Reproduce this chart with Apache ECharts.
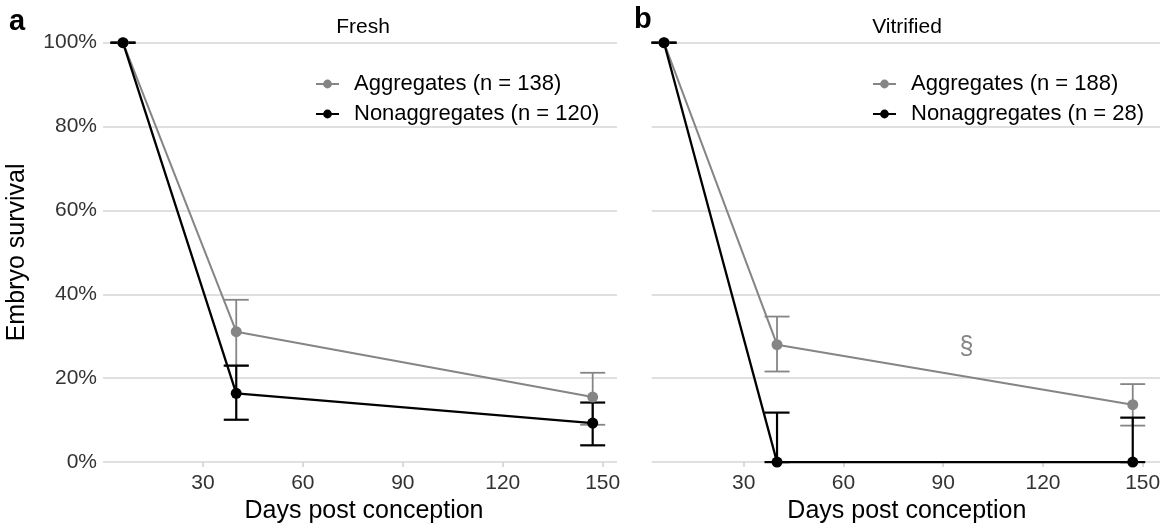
<!DOCTYPE html>
<html><head><meta charset="utf-8">
<script src="https://cdn.jsdelivr.net/npm/echarts@6/dist/echarts.min.js"></script>
<style>html,body{margin:0;padding:0;background:#fff}#c{width:1168px;height:529px}</style>
</head><body><div id="c"></div>
<script>
// ---- data ----
const days = [6, 40, 147];
const xTickValues = [30, 60, 90, 120, 150];
const panelTitles = ['Fresh', 'Vitrified'];
const panelLetters = ['a', 'b'];

const freshAggName = 'Aggregates (n = 138)';
const freshAggMean = [100, 31.1, 15.5];
const freshAggLow  = [100, 23.0, 8.9];
const freshAggHigh = [100, 38.7, 21.3];

const freshNonName = 'Nonaggregates (n = 120)';
const freshNonMean = [100, 16.4, 9.3];
const freshNonLow  = [100, 10.1, 4.0];
const freshNonHigh = [100, 23.0, 14.2];

const vitAggName = 'Aggregates (n = 188)';
const vitAggMean = [100, 28.0, 13.7];
const vitAggLow  = [100, 21.6, 8.7];
const vitAggHigh = [100, 34.7, 18.6];

const vitNonName = 'Nonaggregates (n = 28)';
const vitNonMean = [100, 0, 0];
const vitNonLow  = [100, 0, 0];
const vitNonHigh = [100, 11.8, 10.6];

const sigMarkDay = 97;
const sigMarkValue = 27.5;
const sigMarkText = '§';

// ---- styles ----
const GRAY = '#858585';
const BLACK = '#000000';
const FONT = 'Liberation Sans, Arial, Helvetica, sans-serif';

function pts(means) { return days.map((d, i) => [d, means[i]]); }
function errs(lo, hi) { return days.map((d, i) => [d, lo[i], hi[i]]); }

function errRender(color, width) {
  const half = 12.5;
  return function (params, api) {
    const x = api.value(0), lo = api.value(1), hi = api.value(2);
    const pl = api.coord([x, lo]);
    const ph = api.coord([x, hi]);
    const st = { stroke: color, lineWidth: width, fill: null };
    return {
      type: 'group',
      children: [
        { type: 'line', shape: { x1: pl[0], y1: pl[1], x2: ph[0], y2: ph[1] }, style: st },
        { type: 'line', shape: { x1: pl[0] - half, y1: pl[1], x2: pl[0] + half, y2: pl[1] }, style: st },
        { type: 'line', shape: { x1: ph[0] - half, y1: ph[1], x2: ph[0] + half, y2: ph[1] }, style: st }
      ]
    };
  };
}

function errSeries(idx, lo, hi, color, width) {
  return {
    type: 'custom', xAxisIndex: idx, yAxisIndex: idx,
    renderItem: errRender(color, width),
    encode: { x: 0, y: [1, 2] },
    data: errs(lo, hi), silent: true, clip: false
  };
}
function lineSeries(idx, name, means, color, width) {
  return {
    type: 'line', name: name, xAxisIndex: idx, yAxisIndex: idx,
    data: pts(means), symbol: 'circle', symbolSize: 11, showSymbol: true,
    lineStyle: { color: color, width: width }, itemStyle: { color: color },
    emphasis: { disabled: true }, silent: true, clip: false
  };
}

function xAxis(idx, min, max, padLeft) {
  return {
    type: 'value', gridIndex: idx, min: min, max: max,
    name: 'Days post conception', nameLocation: 'middle', nameGap: 35,
    nameTextStyle: { fontSize: 25, color: '#000', fontFamily: FONT, padding: [0, 0, 0, padLeft] },
    axisLine: { show: false },
    axisTick: { show: true, length: 5, customValues: xTickValues, lineStyle: { color: '#cfcfcf', width: 1.5 } },
    axisLabel: { customValues: xTickValues, fontSize: 21, color: '#333', fontFamily: FONT, margin: 11 },
    splitLine: { show: false }
  };
}
function yAxis(idx, showLabels) {
  return {
    type: 'value', gridIndex: idx, min: 0, max: 100, interval: 20,
    name: showLabels ? 'Embryo survival' : '', nameLocation: 'middle', nameGap: 73,
    nameTextStyle: { fontSize: 25, color: '#000', fontFamily: FONT },
    axisLine: { show: false }, axisTick: { show: false },
    axisLabel: { show: showLabels, formatter: v => v + '%', fontSize: 21, color: '#333', fontFamily: FONT, margin: 6 },
    splitLine: { show: true, lineStyle: { color: '#d6d6d6', width: 1.5 } }
  };
}
function legend(names, left) {
  return {
    data: names, orient: 'vertical', left: left, top: 73, padding: 0,
    itemWidth: 23, itemHeight: 11, itemGap: 8, selectedMode: false,
    textStyle: { fontSize: 22, color: '#000', fontFamily: FONT, lineHeight: 22, padding: [0, 0, 0, 10] }
  };
}

const vitAggLine = lineSeries(1, vitAggName, vitAggMean, GRAY, 2);
vitAggLine.markPoint = {
  symbol: 'circle', symbolSize: 0, silent: true,
  label: { show: true, position: 'inside', formatter: sigMarkText, fontSize: 25, color: GRAY, fontFamily: FONT },
  data: [{ coord: [sigMarkDay, sigMarkValue] }]
};

const option = {
  animation: false,
  backgroundColor: '#fff',
  textStyle: { fontFamily: FONT },
  grid: [
    { left: 103, right: 551, top: 42.7, bottom: 66.7 },
    { left: 651.7, right: 8, top: 42.7, bottom: 66.7 }
  ],
  xAxis: [xAxis(0, 0, 154.3, 8), xAxis(1, 2.3, 155.2, 2)],
  yAxis: [yAxis(0, true), yAxis(1, false)],
  legend: [legend([freshAggName, freshNonName], 315), legend([vitAggName, vitNonName], 872)],
  graphic: [
    { type: 'text', x: 9, y: 22, style: { text: panelLetters[0], font: 'bold 29px ' + FONT, fill: '#000', verticalAlign: 'middle' } },
    { type: 'text', x: 634, y: 20, style: { text: panelLetters[1], font: 'bold 29px ' + FONT, fill: '#000', verticalAlign: 'middle' } },
    { type: 'text', x: 363, y: 27, style: { text: panelTitles[0], font: '21px ' + FONT, fill: '#000', align: 'center', verticalAlign: 'middle' } },
    { type: 'text', x: 907, y: 27, style: { text: panelTitles[1], font: '21px ' + FONT, fill: '#000', align: 'center', verticalAlign: 'middle' } }
  ],
  series: [
    errSeries(0, freshAggLow, freshAggHigh, GRAY, 1.8),
    lineSeries(0, freshAggName, freshAggMean, GRAY, 2),
    errSeries(0, freshNonLow, freshNonHigh, BLACK, 2.2),
    lineSeries(0, freshNonName, freshNonMean, BLACK, 2.3),
    errSeries(1, vitAggLow, vitAggHigh, GRAY, 1.8),
    vitAggLine,
    errSeries(1, vitNonLow, vitNonHigh, BLACK, 2.2),
    lineSeries(1, vitNonName, vitNonMean, BLACK, 2.3)
  ]
};
const chart = echarts.init(document.getElementById('c'), null, { renderer: 'canvas' });
chart.setOption(option);
</script></body></html>
